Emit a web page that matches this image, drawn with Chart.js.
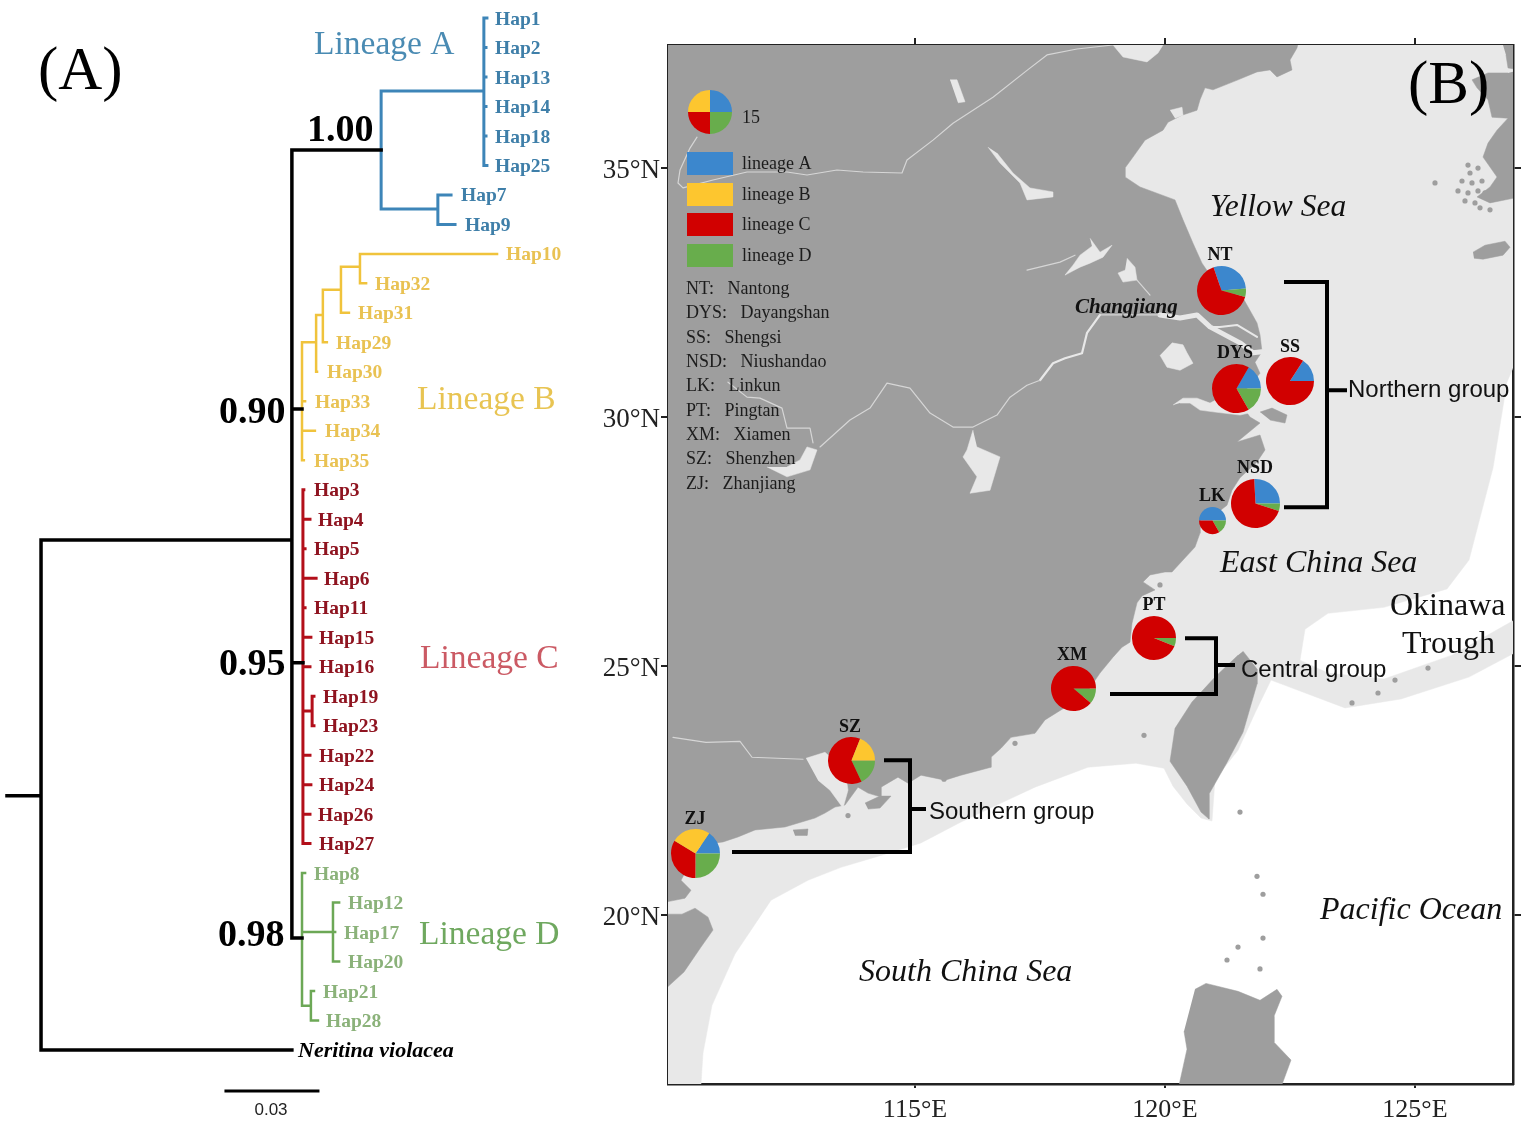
<!DOCTYPE html>
<html><head><meta charset="utf-8">
<script src="https://cdn.jsdelivr.net/npm/chart.js@4"></script>
<style>html,body{margin:0;padding:0;background:#fff;width:1535px;height:1132px;overflow:hidden}canvas{position:absolute;display:block}#wrap{position:relative;width:1535px;height:1132px}</style>
</head><body><div id="wrap"><canvas id="map" width="1535" height="1132" style="left:0;top:0"></canvas><canvas id="tree" width="600" height="1132" style="left:0;top:0"></canvas></div>
<script>
/* ---------- tree data: distance (substitutions/site), row ---------- */
const tipNames=['Hap1','Hap2','Hap13','Hap14','Hap18','Hap25','Hap7','Hap9','Hap10','Hap32','Hap31','Hap29','Hap30','Hap33','Hap34','Hap35','Hap3','Hap4','Hap5','Hap6','Hap11','Hap15','Hap16','Hap19','Hap23','Hap22','Hap24','Hap26','Hap27','Hap8','Hap12','Hap17','Hap20','Hap21','Hap28'];
const tipLabelLeft=[495,495,495,495,495,495,461,465,506,375,358,336,327,315,325,314,314,318,314,324,314,319,319,323,323,319,319,318,319,314,348,344,348,323,326];
const blackBranches=[[0,27.38],[.0111,27.38],null,[.0929,18.7],[.0111,18.7],[.0111,36],[.0929,36],null,[.122,5.48],[.0929,5.48],[.0929,32.2],[.0962,32.2],null,[.0929,14.26],[.0962,14.26],null,[.0929,22.87],[.0965,22.87]];
const blueBranches=[[.1555,3.48],[.122,3.48],[.122,7.48],[.1405,7.48],null,[.1555,1],[.1555,6],[.1565,6],null,[.1555,1],[.1565,1],null,[.1555,2],[.1562,2],null,[.1555,3],[.1562,3],null,[.1555,4],[.1562,4],null,[.1555,5],[.1562,5],null,[.1448,7],[.1405,7],[.1405,8],[.1461,8]];
const yellowBranches=[[.0968,16],[.0962,16],[.0962,12],[.1008,12],null,[.1011,13],[.1008,13],[.1008,11.07],[.103,11.07],null,[.1043,12],[.103,12],[.103,10.22],[.1089,10.22],null,[.1115,11],[.1089,11],[.1089,9.44],[.1151,9.44],null,[.1171,10],[.1151,10],[.1151,9],[.1598,9],null,[.0962,14],[.0972,14],null,[.0962,15],[.1004,15]];
const redBranches=[[.0968,17],[.0965,17],[.0965,29],[.0988,29],null,[.0965,18],[.0988,18],null,[.0965,19],[.0972,19],null,[.0965,20],[.1008,20],null,[.0965,21],[.0972,21],null,[.0965,22],[.0991,22],null,[.0965,23],[.0988,23],null,[.0965,24.5],[.0995,24.5],null,[.1001,24],[.0995,24],[.0995,25],[.1001,25],null,[.0965,26],[.0988,26],null,[.0965,27],[.0991,27],null,[.0965,28],[.0988,28]];
const greenBranches=[[.0972,30],[.0962,30],[.0962,34.5],[.0988,34.5],null,[.0962,32],[.1063,32],null,[.1083,31],[.1063,31],[.1063,33],[.1083,33],null,[.1063,32],[.107,32],null,[.1001,34],[.0991,34],[.0991,35],[.1014,35]];
const scaleBar=[[.0714,37.39],[.1014,37.39]];
const branchColors=['#000000','#3d85b8','#f0c33c','#b30f1a','#6ca856'];

/* ---------- map data: longitude, latitude ---------- */
const shelf=[[110.72,16.61],[110.76,17.23],[110.94,18.19],[111.4,19.22],[111.84,19.88],[112.12,20.3],[112.86,20.7],[113.52,20.96],[114.32,21.2],[115.12,21.45],[115.92,21.87],[116.72,22.25],[117.4,22.57],[118.46,22.97],[119.42,23.05],[119.98,22.95],[120.16,22.59],[120.44,22.23],[120.72,21.95],[120.94,21.89],[121,22.73],[121.46,23.31],[121.8,24.06],[122.12,24.72],[123.6,24.16],[124.72,24.34],[126.08,24.78],[126.98,25.26],[126.98,25.92],[125.74,25.22],[124.38,24.74],[123.26,24.86],[122.7,25.12],[122.8,25.74],[123.26,26.06],[124.38,26.18],[125.64,26.55],[126.08,27.13],[126.56,28.98],[126.84,30.7],[126.98,31.04],[127,37.5],[110,37.5],[110,16.6]];
const mainland=[[110,37.5],[122.66,37.5],[122.64,37.41],[122.5,37.17],[122.54,36.97],[122.24,36.83],[122.1,36.97],[121.84,36.93],[121.46,36.77],[120.96,36.57],[120.8,36.61],[120.7,36.37],[120.64,36.16],[120.34,36.06],[120.06,35.92],[119.96,35.76],[119.6,35.56],[119.36,35.22],[119.2,35],[119.2,34.82],[119.5,34.62],[120.2,34.36],[120.36,33.96],[120.56,33.49],[120.74,33.09],[121.04,32.65],[121.56,32.39],[121.84,31.89],[121.9,31.65],[121.94,31.31],[121.8,31.1],[121.9,30.88],[121.7,30.64],[121.46,30.38],[121.6,30.14],[121.7,30],[121.9,29.88],[121.44,29.5],[121.9,29.64],[122,29.34],[121.84,29.1],[121.5,28.78],[121.34,28.53],[121.24,28.23],[121.06,28.09],[120.7,27.99],[120.7,27.67],[120.6,27.39],[120.36,27.13],[120.14,26.89],[120,26.89],[119.7,26.83],[119.56,26.69],[119.8,26.53],[119.54,26.41],[119.44,26.27],[119.34,25.86],[119.3,25.48],[119.14,25.38],[118.96,25.18],[118.7,24.86],[118.4,24.42],[117.92,24.12],[117.6,23.92],[117.4,23.65],[116.92,23.57],[116.72,23.35],[116.52,23.17],[116.52,22.97],[115.92,22.81],[115.6,22.71],[115.12,22.81],[114.86,22.65],[114.66,22.77],[114.32,22.57],[114.32,22.37],[114.06,22.45],[113.86,22.57],[113.6,22.21],[113.4,22.17],[113.2,22.05],[113,21.95],[112.4,21.77],[111.8,21.71],[111.46,21.57],[111.16,21.47],[110.7,21.41],[110.32,20.7],[110.52,20.5],[110.4,20.34],[110,20.26]];
const hainan=[[110,20.02],[110.34,20.02],[110.6,20.14],[110.86,19.96],[110.96,19.7],[110.72,19.36],[110.38,18.86],[110,18.51]];
const taiwan=[[121.56,25.3],[121.84,24.94],[121.84,24.64],[121.56,23.67],[121.22,23.03],[120.88,22.43],[120.88,21.93],[120.72,22.07],[120.44,22.59],[120.1,23.09],[120.2,23.75],[120.54,24.28],[121,24.78],[121.46,25.22]];
const luzon=[[120.6,18.51],[120.82,18.63],[121.46,18.47],[121.9,18.29],[122.24,18.51],[122.34,18.37],[122.18,17.97],[122.18,17.45],[122.52,17.09],[122.3,16.49],[120.26,16.49],[120.44,17.31],[120.38,17.67]];
const korea=[[126.86,36.91],[126.46,36.91],[126.14,36.77],[126.24,36.61],[126.46,36.37],[126.54,36.02],[126.86,36],[126.64,35.76],[126.46,35.5],[126.36,35.22],[126.64,34.82],[126.5,34.62],[126.24,34.42],[126.5,34.3],[127.1,34.42],[127.1,36.97]];
const koreaNorth=[[126.76,37.47],[127.1,37.47],[127.1,36.97],[126.86,37.01],[126.82,37.27]];
const jeju=[[126.16,33.31],[126.4,33.45],[126.8,33.53],[126.9,33.41],[126.76,33.25],[126.36,33.17],[126.18,33.19]];
const greyIslets=[
 [[121.9,30.1],[122.14,30.18],[122.44,30.04],[122.4,29.88],[122.1,29.94]],
 [[114,22.25],[114.3,22.39],[114.52,22.39],[114.3,22.15],[114.06,22.13]],
 [[112.56,21.71],[112.86,21.73],[112.84,21.6],[112.6,21.6]]
];
const waters=[
 [[118.96,37.47],[119.16,37.23],[119.64,37.13],[119.86,37.31],[119.96,37.47]],
 [[120.1,36.16],[120.34,36.22],[120.36,36.06],[120.2,36]],
 [[115.7,36.77],[115.84,36.77],[116,36.33],[115.86,36.31]],
 [[116.46,35.42],[116.7,35.1],[117.1,34.7],[117.24,34.36],[117.76,34.42],[117.76,34.52],[117.3,34.6],[116.96,34.9],[116.64,35.3]],
 [[118.5,33.59],[118.7,33.31],[118.94,33.45],[118.76,33.21],[118.5,33.09],[118.3,33.01],[118,32.85],[118.16,33.05],[118.3,33.25],[118.54,33.43]],
 [[119.24,33.19],[119.4,33.01],[119.44,32.75],[119.16,32.71],[119.06,32.89],[119.2,32.95]],
 [[120.14,31.49],[120.36,31.45],[120.44,31.29],[120.56,31.08],[120.3,30.94],[120.04,31],[119.9,31.24]],
 [[120.16,30.24],[120.36,30.38],[120.64,30.38],[120.9,30.28],[121.4,30.54],[121.8,30.5],[121.94,30.14],[121.5,30.04],[121,30.1],[120.7,30.14],[120.5,30.28],[120.3,30.28]],
 [[112.04,29],[112.44,28.8],[112.9,28.94],[113.04,29.34],[112.84,29.4],[112.7,29.14],[112.44,29]],
 [[116.16,29.74],[116.04,29.34],[115.96,29.2],[116.24,28.8],[116.1,28.47],[116.5,28.53],[116.7,29.2],[116.24,29.4]],
 [[112.82,23.15],[113.2,23.27],[113.6,22.91],[113.66,22.51],[113.56,22.15],[113.3,22.51],[113.06,22.71]]
];
const rivers=[[110.64,35.62],[110.5,35.4],[110.3,34.96],[110.26,34.7],[110.36,34.6],[110.96,34.76],[111.64,34.92],[112.44,34.92],[112.84,34.86],[113.44,34.96],[113.96,34.92],[114.74,34.9],[114.84,35.16],[115.36,35.56],[115.76,35.9],[116.56,36.42],[117.24,36.96],[117.64,37.27],[118.24,37.39],[118.96,37.47],null,
 [113.1,29.4],[113.7,29.94],[114.1,30.18],[114.44,30.68],[114.9,30.58],[115.3,30.08],[115.76,29.8],[116.16,29.8],[116.64,30.04],[116.9,30.4],[117.24,30.64],[117.5,30.74],null,
 [118.7,32.05],[119.9,32.05],null,
 [119.44,32.75],[119.7,32.45],null,
 [111.26,30.7],[111.64,30.4],[111.9,30.38],[112.34,30.18],[112.44,29.78],[112.9,29.78],[112.96,29.48],null,
 [110.16,23.57],[110.82,23.47],[111.5,23.49],[111.74,23.17],[112.76,23.13],null,
 [117.24,32.95],[117.9,33.11],[118.2,33.25]];
const riverThick=[[117.5,30.74],[117.76,31.08],[118,31.18],[118.34,31.28],[118.44,31.69],[118.7,32.05]];
const estuary=[[119.9,32.05],[120.3,31.99],[120.64,32.05],[120.9,31.81],[121.5,31.49],[121.76,31.29],[121.94,31.31]];
const estuaryNorth=[[120.9,31.81],[121.1,31.81],[121.44,31.85],[121.84,31.61]];
const islands=[[126.06,35.06],[126.26,35],[125.94,34.74],[126.14,34.7],[126.34,34.74],[125.86,34.54],[126.06,34.5],[126.26,34.54],[126,34.34],[126.2,34.3],[126.1,34.9],[126.4,34.5],[125.4,34.7],[126.5,34.16],[126.3,34.2],[123.74,24.26],[124.26,24.46],[125.26,24.96],[124.6,24.72],[119.58,23.61],[121.84,20.78],[121.96,20.42],[121.46,19.36],[121.96,19.54],[121.9,18.92],[121.5,22.07],[121.24,19.1],[120.1,27.13],[119.9,26.63],[113.66,22],[115.58,22.73],[117,23.45]];
const brackets=[[122.38,32.71],[123.24,32.71],[123.24,28.19],[122.38,28.19],null,[123.24,30.54],[123.64,30.54],null,
 [120.4,25.56],[121.02,25.56],[121.02,24.44],[118.9,24.44],null,[121.02,25.02],[121.4,25.02],null,
 [114.38,23.11],[114.9,23.11],[114.9,21.27],[111.34,21.27],null,[114.9,22.13],[115.22,22.13]];

/* ---------- pie data: percent per lineage ---------- */
const siteCodes=['NT','DYS','SS','NSD','LK','PT','XM','SZ','ZJ'];
const siteNames=['Nantong','Dayangshan','Shengsi','Niushandao','Linkun','Pingtan','Xiamen','Shenzhen','Zhanjiang'];
const siteLon=[121.12,121.42,122.5,121.8,120.94,119.78,118.16,113.72,110.6];
const siteLat=[32.55,30.58,30.72,28.27,27.93,25.56,24.56,23.11,21.24];
const lineageA=[28.9,16.7,15.8,25.8,50,0,0,0,15.6];
const lineageB=[0,0,0,0,0,0,0,19,25.8];
const lineageC=[65.5,66.6,84.2,69.2,33.3,93.9,88.9,63,33.6];
const lineageD=[5.6,16.7,0,5,16.7,6.1,11.1,18,25];
const pieStartDeg=[-19,30,33,-3,-90,90,90,90,34];
const pieRadius=[24.5,24.5,24,24.5,13.5,22,22.5,23.5,24.5];
const keyPie={lon:110.9,lat:36.12,values:[25,25,25,25],radius:22};
const lineageColors={A:'#3c87cd',B:'#fdc62f',C:'#d10000',D:'#68ad4c'};

const xTicks=[115,120,125], yTicks=[20,25,30,35];
const groupLabels=['Northern group','Central group','Southern group'];

const SERIF='"Liberation Serif","Times New Roman",serif', SANS='"Liberation Sans",Arial,sans-serif';
const toXY=a=>a.map(p=>p?{x:p[0],y:p[1]}:{x:null,y:null});
const textPlugin={id:'textLayer',afterDraw(c,a,o){const g=c.ctx;g.save();g.textBaseline='middle';
 (o.items(c)||[]).forEach(i=>{g.font=i.f;g.fillStyle=i.c;g.textAlign=i.a||'left';
  const s=parseFloat(i.f.match(/([\d.]+)px/)[1]);g.fillText(i.t,i.x,i.y+s*(i.f.includes('Sans')?0.03:0.08))});g.restore();}};

/* ---------- tree ---------- */
const tc=document.getElementById('tree');
const ln=(data,color,w)=>({data:toXY(data),borderColor:color,borderWidth:w,showLine:true,pointRadius:0,fill:false,tension:0,borderCapStyle:'square',borderJoinStyle:'miter',spanGaps:false});
const tipColor=i=>i<8?'#3f7fa9':i<16?'#e9c253':i<29?'#8f1420':'#8bb27a';
new Chart(tc,{type:'scatter',plugins:[textPlugin],data:{datasets:[
 ln(blackBranches,branchColors[0],3.5),ln(scaleBar,branchColors[0],3),ln(blueBranches,branchColors[1],3),ln(yellowBranches,branchColors[2],2.5),ln(redBranches,branchColors[3],3),ln(greenBranches,branchColors[4],2.5)]},
 options:{responsive:false,animation:false,events:[],layout:{padding:0},
 scales:{x:{type:'linear',display:false,min:-0.00228,max:0.19337},y:{type:'linear',display:false,reverse:true,min:0.39,max:38.78}},
 plugins:{legend:{display:false},tooltip:{enabled:false},
 textLayer:{items(c){const Y=c.scales.y;const h='bold 19.5px '+SERIF;const big='bold 38px '+SERIF;const lin='33.5px '+SERIF;
  const it=tipNames.map((t,i)=>({t,x:tipLabelLeft[i],y:Y.getPixelForValue(i+1),f:h,c:tipColor(i)}));
  it.push({t:'Neritina violacea',x:298,y:Y.getPixelForValue(36),f:'italic bold 22px '+SERIF,c:'#000'});
  it.push({t:'(A)',x:38,y:68,f:'61px '+SERIF,c:'#000'},
   {t:'1.00',x:307,y:128,f:big,c:'#000'},{t:'0.90',x:219,y:410,f:big,c:'#000'},{t:'0.95',x:219,y:662,f:big,c:'#000'},{t:'0.98',x:218,y:933,f:big,c:'#000'},
   {t:'Lineage A',x:314,y:43,f:lin,c:'#4a8bb3'},{t:'Lineage B',x:417,y:398,f:lin,c:'#e8c452'},{t:'Lineage C',x:420,y:657,f:lin,c:'#cb5a64'},{t:'Lineage D',x:419,y:933,f:lin,c:'#6fa85f'},
   {t:'0.03',x:271,y:1110,f:'17px '+SANS,c:'#222',a:'center'});
  return it;}}}}});

/* ---------- map ---------- */
const poly=(pts,color,order)=>({data:toXY(pts),showLine:true,fill:'shape',backgroundColor:color,borderColor:color,borderWidth:0.5,pointRadius:0,tension:0,order});
const stroke=(pts,color,w,order)=>({data:toXY(pts),showLine:true,fill:false,borderColor:color,borderWidth:w,pointRadius:0,tension:0,order,borderCapStyle:'round',borderJoinStyle:'round'});
const LAND='#9e9e9e',SHELF='#e8e8e8';
const mapSets=[poly(shelf,SHELF,20),poly(mainland,LAND,19),poly(hainan,LAND,18),poly(taiwan,LAND,18),poly(luzon,LAND,18),poly(korea,LAND,18),poly(koreaNorth,LAND,18),poly(jeju,LAND,18),
 ...waters.map(w=>poly(w,SHELF,15)),stroke(rivers,'#d6d6d6',1.2,14),stroke(riverThick,SHELF,2.2,14),stroke(estuary,SHELF,5,14),stroke(estuaryNorth,SHELF,2,14),
 ...greyIslets.map(w=>poly(w,LAND,13)),
 {data:toXY(islands),showLine:false,pointRadius:2.6,pointBackgroundColor:LAND,pointBorderWidth:0,order:13},
 stroke(brackets,'#000',4,5)];
mapSets[mapSets.length-1].borderCapStyle='butt';mapSets[mapSets.length-1].borderJoinStyle='miter';
const fixTicks=v=>s=>{s.ticks=v.map(value=>({value}))};
const axisBase={type:'linear',border:{display:true,color:'#222',width:2.5},grid:{drawOnChartArea:false,drawTicks:true,color:'#222',lineWidth:2}};
const XMIN=110.06,XMAX=126.96,YMIN=16.61,YMAX=37.47;
const mapChart=new Chart(document.getElementById('map'),{type:'scatter',plugins:[textPlugin],data:{datasets:mapSets},
 options:{responsive:false,animation:false,events:[],layout:{padding:0},
 scales:{
  x:{...axisBase,position:'bottom',min:XMIN,max:XMAX,afterBuildTicks:fixTicks(xTicks),afterFit:s=>{s.height=48},grid:{...axisBase.grid,tickLength:4},
     ticks:{autoSkip:false,maxRotation:0,font:{family:SERIF,size:26},color:'#222',padding:7,callback:v=>v+'°E'}},
  y:{...axisBase,position:'left',min:YMIN,max:YMAX,afterBuildTicks:fixTicks(yTicks),afterFit:s=>{s.width=668},grid:{...axisBase.grid,tickLength:7},
     ticks:{autoSkip:false,maxRotation:0,font:{family:SERIF,size:27,lineHeight:'5px'},color:'#222',padding:1,callback:v=>['',v+'°N']}},
  xTop:{...axisBase,position:'top',min:XMIN,max:XMAX,afterBuildTicks:fixTicks(xTicks),afterFit:s=>{s.height=45},grid:{...axisBase.grid,tickLength:7},ticks:{autoSkip:false,maxRotation:0,callback:()=>''}},
  yRight:{...axisBase,position:'right',min:YMIN,max:YMAX,afterBuildTicks:fixTicks(yTicks),afterFit:s=>{s.width=22},grid:{...axisBase.grid,tickLength:8},ticks:{autoSkip:false,maxRotation:0,callback:()=>''}}
 },
 plugins:{legend:{display:false},tooltip:{enabled:false},
 textLayer:{items(c){const g=c.ctx;const k='18px '+SERIF,ink='#1c1c1c';
  const it=[];
  [['lineage A',lineageColors.A,152],['lineage B',lineageColors.B,183],['lineage C',lineageColors.C,213],['lineage D',lineageColors.D,244]].forEach(([t,col,y])=>{
    g.fillStyle=col;g.fillRect(687,y,46,23);it.push({t,x:742,y:y+11,f:k,c:ink});});
  it.push({t:'15',x:742,y:117,f:k,c:ink});
  siteCodes.forEach((s,i)=>it.push({t:s+':   '+siteNames[i],x:686,y:288+i*24.3,f:k,c:ink}));
  const sl='bold 18px '+SERIF;
  const lx=[1220,1235,1290,1255,1212,1154,1072,850,695],ly=[254,352,346,467,495,604,654,726,818];
  siteCodes.forEach((s,i)=>it.push({t:s,x:lx[i],y:ly[i],f:sl,c:'#111',a:'center'}));
  const ital='italic 32px '+SERIF,g24='24px '+SANS;
  it.push({t:'(B)',x:1408,y:82,f:'61px '+SERIF,c:'#000'},
   {t:'Yellow Sea',x:1210,y:205,f:'italic 31.5px '+SERIF,c:'#111'},{t:'East China Sea',x:1220,y:561,f:ital,c:'#111'},
   {t:'Pacific Ocean',x:1320,y:908,f:ital,c:'#111'},{t:'South China Sea',x:859,y:970,f:ital,c:'#111'},
   {t:'Okinawa',x:1390,y:604,f:'32px '+SERIF,c:'#111'},{t:'Trough',x:1402,y:642,f:'32px '+SERIF,c:'#111'},
   {t:'Changjiang',x:1075,y:306,f:'italic bold 21px '+SERIF,c:'#111'},
   {t:groupLabels[0],x:1348,y:390,f:g24,c:'#111'},{t:groupLabels[1],x:1241,y:670,f:g24,c:'#111'},{t:groupLabels[2],x:929,y:812,f:g24,c:'#111'});
  return it;}}}}});

/* ---------- pies placed through the map's scales ---------- */
function addPie(lon,lat,r,values,start){
 const size=Math.ceil(2*r+4),cv=document.createElement('canvas');cv.width=size;cv.height=size;
 cv.style.left=(mapChart.scales.x.getPixelForValue(lon)-size/2)+'px';
 cv.style.top=(mapChart.scales.y.getPixelForValue(lat)-size/2)+'px';
 document.getElementById('wrap').appendChild(cv);
 new Chart(cv,{type:'pie',data:{labels:['lineage A','lineage D','lineage C','lineage B'],datasets:[{data:values,backgroundColor:[lineageColors.A,lineageColors.D,lineageColors.C,lineageColors.B],borderWidth:0}]},
  options:{responsive:false,animation:false,events:[],rotation:start,radius:r,layout:{padding:0},plugins:{legend:{display:false},tooltip:{enabled:false}}}});
}
addPie(keyPie.lon,keyPie.lat,keyPie.radius,keyPie.values,0);
siteCodes.forEach((s,i)=>addPie(siteLon[i],siteLat[i],pieRadius[i],[lineageA[i],lineageD[i],lineageC[i],lineageB[i]],pieStartDeg[i]));
</script></body></html>
